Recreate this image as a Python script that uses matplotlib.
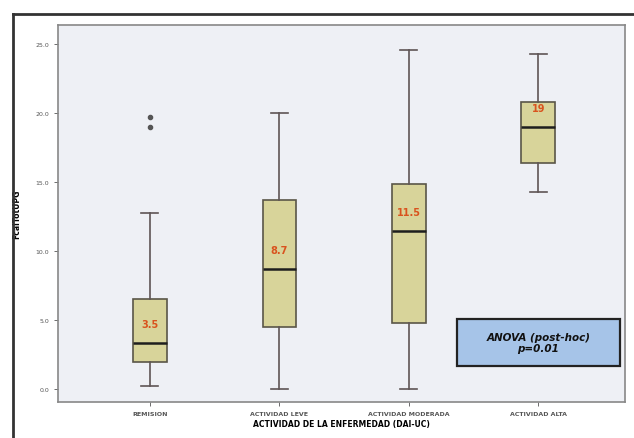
import matplotlib.pyplot as plt
import matplotlib.lines as mlines
from matplotlib.patches import Rectangle

# valores
categorias = ['REMISION', 'ACTIVIDAD LEVE', 'ACTIVIDAD MODERADA', 'ACTIVIDAD ALTA']
bigote_inf = [0.2, 0.0, 0.0, 14.3]
q1 = [1.95, 4.5, 4.8, 16.4]
mediana = [3.3, 8.7, 11.45, 19.0]
q3 = [6.5, 13.7, 14.9, 20.8]
bigote_sup = [12.75, 20.0, 24.6, 24.3]
atipicos = [[19.0, 19.7], [], [], []]
etiquetas = ['3.5', '8.7', '11.5', '19']
yticks = [0, 5, 10, 15, 20, 25]

fig = plt.figure(figsize=(6.34, 4.39), dpi=100)
ax = fig.add_axes([58 / 634, 1 - 403 / 439, 567 / 634, 377 / 439])
ax.set_facecolor('#eef0f5')

stats = []
for i in range(len(categorias)):
    stats.append({'whislo': bigote_inf[i], 'q1': q1[i], 'med': mediana[i],
                  'q3': q3[i], 'whishi': bigote_sup[i], 'fliers': atipicos[i]})

pos = [1, 2, 3, 4]
ax.bxp(stats, positions=pos, widths=0.26, patch_artist=True,
       boxprops=dict(facecolor='#d8d49a', edgecolor='#5a5648', linewidth=1.2),
       medianprops=dict(color='#1e1e1e', linewidth=1.8),
       whiskerprops=dict(color='#5e5555', linewidth=1.2),
       capprops=dict(color='#5e5555', linewidth=1.2),
       flierprops=dict(marker='o', markersize=3, markerfacecolor='#555555',
                       markeredgecolor='#555555'))

for p, m, t in zip(pos, mediana, etiquetas):
    ax.text(p, m + 1.4, t, ha='center', va='center', color='#d9531e',
            fontsize=7, fontweight='bold')

ax.set_xlim(0.29, 4.67)
ax.set_ylim(-0.95, 26.4)
ax.set_yticks(yticks)
ax.set_yticklabels([f'{v:.1f}' for v in yticks], fontsize=4.5, color='#444444')
ax.set_xticks(pos)
ax.set_xticklabels(categorias, fontsize=4.5, color='#333333', fontweight='bold')
ax.tick_params(length=3, width=0.6, colors='#555555')
ax.set_ylabel('FcalTotUPG', fontsize=5.5, fontweight='bold', labelpad=10)
ax.set_xlabel('ACTIVIDAD DE LA ENFERMEDAD (DAI-UC)', fontsize=5.5,
              fontweight='bold', labelpad=2)
for s in ax.spines.values():
    s.set_color('#888888')
    s.set_linewidth(1.2)

# recuadro ANOVA
ax.add_patch(Rectangle((0.704, 0.0955), 0.287, 0.125, transform=ax.transAxes,
                       facecolor='#a6c4e8', edgecolor='#222222', linewidth=1.6,
                       zorder=5))
ax.text(0.8475, 0.158, 'ANOVA (post-hoc)\np=0.01', transform=ax.transAxes,
        ha='center', va='center', fontsize=7.5, fontweight='bold', style='italic',
        color='#111111', linespacing=1.1, zorder=6)

# marco oscuro arriba e izquierda
fig.add_artist(mlines.Line2D([13 / 634, 13 / 634], [0, 1 - 15 / 439],
                             transform=fig.transFigure, color='#333333', linewidth=2))
fig.add_artist(mlines.Line2D([13 / 634, 1], [1 - 15 / 439, 1 - 15 / 439],
                             transform=fig.transFigure, color='#333333', linewidth=2))

fig.savefig('out.png', dpi=100)
